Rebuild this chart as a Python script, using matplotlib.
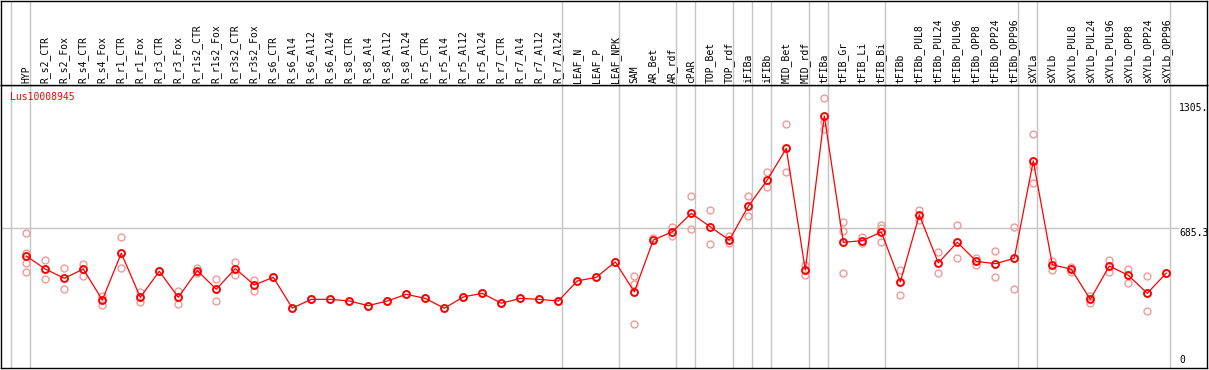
import matplotlib
matplotlib.use("Agg")
import matplotlib.pyplot as plt
from matplotlib.transforms import blended_transform_factory

gene = "Lus10008945"

samples = [
    "HYP", "R_s2_CTR", "R_s2_Fox", "R_s4_CTR", "R_s4_Fox", "R_r1_CTR", "R_r1_Fox",
    "R_r3_CTR", "R_r3_Fox", "R_r1s2_CTR", "R_r1s2_Fox", "R_r3s2_CTR", "R_r3s2_Fox",
    "R_s6_CTR", "R_s6_Al4", "R_s6_Al12", "R_s6_Al24", "R_s8_CTR", "R_s8_Al4",
    "R_s8_Al12", "R_s8_Al24", "R_r5_CTR", "R_r5_Al4", "R_r5_Al12", "R_r5_Al24",
    "R_r7_CTR", "R_r7_Al4", "R_r7_Al12", "R_r7_Al24", "LEAF_N", "LEAF_P", "LEAF_NPK",
    "SAM", "AR_Bet", "AR_rdf", "cPAR", "TOP_Bet", "TOP_rdf", "iFIBa", "iFIBb",
    "MID_Bet", "MID_rdf", "tFIBa", "tFIB_Gr", "tFIB_Li", "tFIB_Bi", "tFIBb",
    "tFIBb_PUL8", "tFIBb_PUL24", "tFIBb_PUL96", "tFIBb_OPP8", "tFIBb_OPP24",
    "tFIBb_OPP96", "sXYLa", "sXYLb", "sXYLb_PUL8", "sXYLb_PUL24", "sXYLb_PUL96",
    "sXYLb_OPP8", "sXYLb_OPP24", "sXYLb_OPP96",
]

means = [
    548, 484, 438, 484, 331, 562, 344, 473, 344, 476, 384, 486, 405,
    443, 291, 334, 334, 326, 303, 326, 359, 339, 290, 346, 364,
    315, 339, 334, 326, 425, 443, 519,
    371, 627, 668, 759, 692, 627, 794, 924,
    1080, 479, 1240, 616, 624, 667, 420,
    751, 514, 616, 522, 510, 537,
    1018, 505, 483, 334, 499, 453, 364, 464,
]

replicates = [
    [660, 561, 512, 467], [527, 436], [487, 383], [510, 450], [350, 308],
    [640, 487], [372, 322], [473], [375, 309], [490, 465], [436, 324],
    [518, 456], [429, 376], [443], [291], [334], [334], [326], [303], [326],
    [359], [339], [290], [346], [364], [315], [339], [334], [326], [425],
    [443], [519],
    [449, 410, 210], [638], [692, 647], [843, 681], [775, 606], [647, 611],
    [843, 744], [963, 887], [1200, 961], [504, 453], [1327, 1211, 1174],
    [716, 671, 464], [643, 611], [701, 685, 616], [479, 355],
    [775, 726], [566, 463], [701, 537], [539, 503], [571, 444], [690, 385],
    [1151, 992, 907], [523, 479], [495, 469], [350, 314], [528, 467],
    [484, 416], [448, 276], [464],
]

# index of last sample in each group (-1 = left edge)
group_ends = [-1, 0, 28, 31, 34, 35, 37, 38, 39, 41, 42, 45, 52, 53, 60]

ref_value = 685.3
top_value = 1305

W, H = 1209, 370
fig = plt.figure(figsize=(W / 100, H / 100), dpi=100)


def px_axes(x0, y0, x1, y1):
    return fig.add_axes([x0 / W, 1 - y1 / H, (x1 - x0) / W, (y1 - y0) / H])


ax = px_axes(1, 85, 1207, 368)
hd = px_axes(1, 1, 1207, 85)

xmin = -(26.3 - 1) / 19
xmax = xmin + 1206 / 19
mono = "DejaVu Sans Mono"
grid_col = "#c4c4c4"

for a in (ax, hd):
    a.set_xlim(xmin, xmax)
    a.set_xticks([])
    a.set_yticks([])
    for s in a.spines.values():
        s.set_linewidth(1.0)
        s.set_color("black")
    for g in group_ends:
        a.axvline(g + 0.195, color=grid_col, lw=1, zorder=0)

ax.set_ylim(-5, 1393)
hd.set_ylim(0, 1)

ax.axhline(ref_value, xmin=0, xmax=(1178 - 1) / 1206, color=grid_col, lw=1, zorder=0)

for i, r in enumerate(replicates):
    ax.plot([i] * len(r), r, "o", mfc="none", mec="#f29a9a", ms=5, mew=1.0, zorder=2)
xs = list(range(len(samples)))
ax.plot(xs, means, "-", color="red", lw=0.9, zorder=3)
ax.plot(xs, means, "o", mfc="none", mec="red", ms=5, mew=1.4, zorder=4)

for i, name in enumerate(samples):
    hd.text(i, 2 / 84, name, rotation=90, ha="center", va="bottom",
            fontsize=7, family=mono)

ax.text((10 - 1) / 1206, 1 - 7 / 283, gene, transform=ax.transAxes,
        color="red", fontsize=7, family=mono, ha="left", va="top")

tr = blended_transform_factory(ax.transAxes, ax.transData)
lx = (1179 - 1) / 1206
ax.text(lx, top_value, "1305.", transform=tr, fontsize=7, family=mono, ha="left", va="top")
ax.text(lx, ref_value, "685.3", transform=tr, fontsize=7, family=mono, ha="left", va="top")
ax.text(lx, 8, "0", transform=tr, fontsize=7, family=mono, ha="left", va="bottom")

fig.savefig("out.png", dpi=100)
